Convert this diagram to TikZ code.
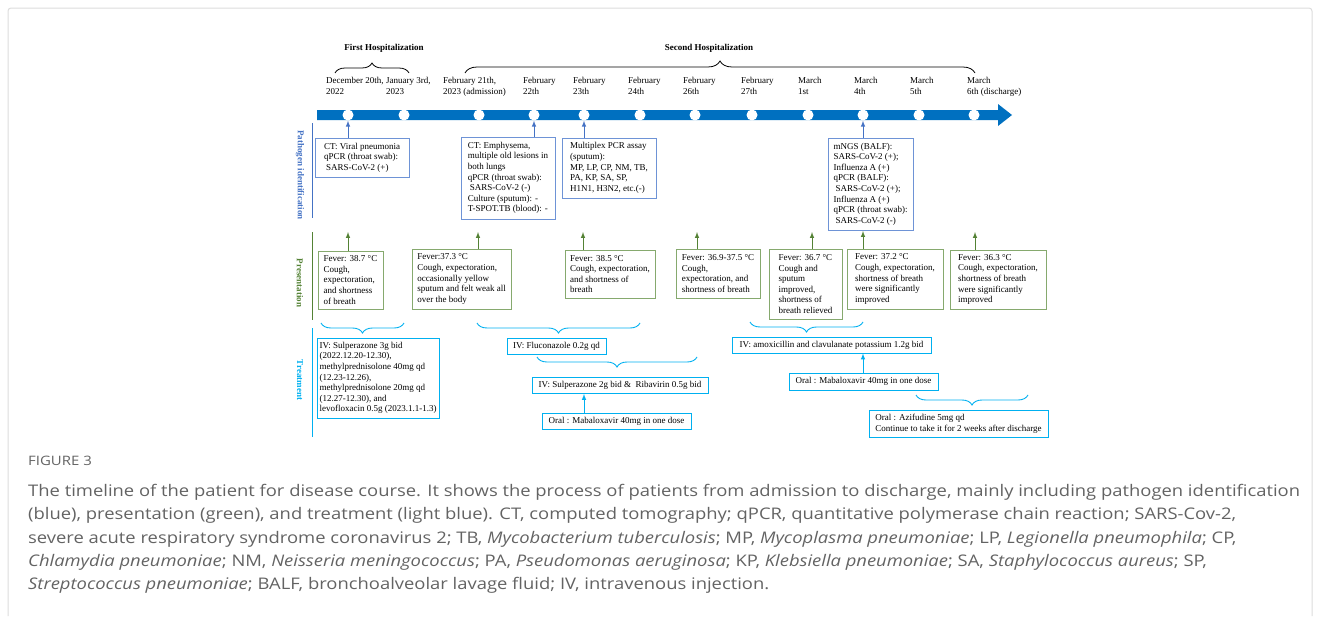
\documentclass[tikz,border=0pt]{standalone}
\usepackage{fontspec}
\setmainfont{Liberation Serif}
\newfontfamily\capfont[FakeStretch=1.15]{Open Sans}
\usetikzlibrary{decorations.pathreplacing}

\definecolor{tlblue}{HTML}{0070C0}
\definecolor{pathblue}{HTML}{4472C4}
\definecolor{pathbox}{HTML}{6E93D6}
\definecolor{presgreen}{HTML}{548235}
\definecolor{presbox}{HTML}{86A96E}
\definecolor{treatblue}{HTML}{00B0F0}
\definecolor{capgray}{HTML}{636363}
\definecolor{framegray}{HTML}{DCDCDC}

\tikzset{
  every node/.style={font=\fontsize{9}{10.6}\selectfont},
  dot/.style={circle, fill=white, minimum size=11pt, inner sep=0pt},
  date/.style={anchor=north west, align=left, inner sep=0pt},
  pbox/.style={draw=pathbox, line width=0.9pt, align=left, inner sep=2pt},
  gbox/.style={draw=presbox, line width=0.9pt, align=left, inner sep=2pt},
  tbox/.style={draw=treatblue, line width=0.9pt, align=left, inner sep=2pt},
  parr/.style={->, >=latex, pathblue, line width=1pt},
  garr/.style={->, >=latex, presgreen, line width=1pt},
  tarr/.style={->, >=latex, treatblue, line width=1pt},
  topbrace/.style={decorate, decoration={brace, amplitude=10pt}, line width=0.8pt},
  lowbrace/.style={decorate, decoration={brace, amplitude=10pt, mirror}, treatblue, line width=0.9pt},
  rowlabel/.style={rotate=-90, font=\bfseries\fontsize{9}{10.6}\selectfont}
}

\begin{document}
\begin{tikzpicture}[x=1pt, y=-1pt]
\useasboundingbox (0,0) rectangle (1320,616);

\draw[framegray, line width=1pt, rounded corners=3pt] (8,616) -- (8,8) -- (1312,8) -- (1312,616);

\node[font=\bfseries\fontsize{9}{10.6}\selectfont] (hosp1) at (384,48) {First Hospitalization};
\node[font=\bfseries\fontsize{9}{10.6}\selectfont] (hosp2) at (709,48) {Second Hospitalization};
\draw[topbrace] (335,73) -- (409,73);
\draw[topbrace, decoration={amplitude=12pt}] (465,73) -- (975,73);

\node[date] (lb1) at (326,77) {December 20th,\\2022};
\node[date] (lb2) at (386,77) {January 3rd,\\2023};
\node[date] (lb3) at (443,77) {February 21th,\\2023 (admission)};
\node[date] (lb4) at (523,77) {February\\22th};
\node[date] (lb5) at (573,77) {February\\23th};
\node[date] (lb6) at (628,77) {February\\24th};
\node[date] (lb7) at (683,77) {February\\26th};
\node[date] (lb8) at (741,77) {February\\27th};
\node[date] (lb9) at (798,77) {March\\1st};
\node[date] (lb10) at (854,77) {March\\4th};
\node[date] (lb11) at (910,77) {March\\5th};
\node[date] (lb12) at (967,77) {March\\6th (discharge)};

\fill[tlblue] (317,110) -- (998,110) -- (998,104) -- (1012,115) -- (998,126) -- (998,120) -- (317,120) -- cycle;
\node[dot] (d1) at (348,115) {};
\node[dot] (d2) at (404,115) {};
\node[dot] (d3) at (479,115) {};
\node[dot] (d4) at (534,115) {};
\node[dot] (d5) at (584,115) {};
\node[dot] (d6) at (640,115) {};
\node[dot] (d7) at (695,115) {};
\node[dot] (d8) at (752,115) {};
\node[dot] (d9) at (808,115) {};
\node[dot] (d10) at (863,115) {};
\node[dot] (d11) at (919,115) {};
\node[dot] (d12) at (974,115) {};

\node[rowlabel, text=pathblue] (lpath) at (300,175) {Pathogen identification};
\node[rowlabel, text=presgreen] (lpres) at (300,283) {Presentation};
\node[rowlabel, text=treatblue] (ltreat) at (300,380) {Treatment};
\draw[pathblue, line width=1pt] (312,123) -- (312,218);
\draw[presgreen, line width=1pt] (312,232) -- (312,320);
\draw[treatblue, line width=1pt] (312,328) -- (312,437);

\node[pbox, minimum width=94, minimum height=39] (p1) at (362,157.5) {CT: Viral pneumonia\\qPCR (throat swab):\\\hspace*{2pt}SARS-CoV-2 (+)};
\node[pbox, minimum width=94, minimum height=82] (p2) at (508,178) {CT: Emphysema,\\multiple old lesions in\\both lungs\\qPCR (throat swab):\\\hspace*{2pt}SARS-CoV-2 (-)\\Culture (sputum): -\\T-SPOT.TB (blood): -};
\node[pbox, minimum width=94, minimum height=60] (p3) at (609,168) {Multiplex PCR assay\\(sputum):\\MP, LP, CP, NM, TB,\\PA, KP, SA, SP,\\H1N1, H3N2, etc.(-)};
\node[pbox, minimum width=85, minimum height=92] (p4) at (870.5,184) {mNGS (BALF):\\SARS-CoV-2 (+);\\Influenza A (+)\\qPCR (BALF):\\\hspace*{2pt}SARS-CoV-2 (+);\\Influenza A (+)\\qPCR (throat swab):\\\hspace*{2pt}SARS-CoV-2 (-)};
\draw[parr] (p1.north -| d1) -- (d1.south);
\draw[parr] (p2.north -| d4) -- (d4.south);
\draw[parr] (p3.north -| d5) -- (d5.south);
\draw[parr] (p4.north -| d10) -- (d10.south);

\node[gbox, minimum width=65, minimum height=58] (g1) at (350.5,280) {Fever: 38.7 °C\\Cough,\\expectoration,\\and shortness\\of breath};
\node[gbox, minimum width=99, minimum height=60] (g2) at (461.5,279) {Fever:37.3 °C\\Cough, expectoration,\\occasionally yellow\\sputum and felt weak all\\over the body};
\node[gbox, minimum width=90, minimum height=48] (g3) at (610,274) {Fever: 38.5 °C\\Cough, expectoration,\\and shortness of\\breath};
\node[gbox, minimum width=84, minimum height=49] (g4) at (718,273.5) {Fever: 36.9-37.5 °C\\Cough,\\expectoration, and\\shortness of breath};
\node[gbox, minimum width=73, minimum height=70] (g5) at (805.5,284) {Fever: 36.7 °C\\Cough and\\sputum\\improved,\\shortness of\\breath relieved};
\node[gbox, minimum width=96, minimum height=60] (g6) at (895,279) {Fever: 37.2 °C\\Cough, expectoration,\\shortness of breath\\were significantly\\improved};
\node[gbox, minimum width=96, minimum height=59] (g7) at (998,279.5) {Fever: 36.3 °C\\Cough, expectoration,\\shortness of breath\\were significantly\\improved};
\coordinate (g1t) at (348,232);
\coordinate (g2t) at (478,232);
\coordinate (g3t) at (583,232);
\coordinate (g4t) at (697,232);
\coordinate (g5t) at (812,232);
\coordinate (g6t) at (863,231);
\coordinate (g7t) at (975,232);
\draw[garr] (g1.north -| g1t) -- (g1t);
\draw[garr] (g2.north -| g2t) -- (g2t);
\draw[garr] (g3.north -| g3t) -- (g3t);
\draw[garr] (g4.north -| g4t) -- (g4t);
\draw[garr] (g5.north -| g5t) -- (g5t);
\draw[garr] (g6.north -| g6t) -- (g6t);
\draw[garr] (g7.north -| g7t) -- (g7t);

\draw[lowbrace] (321,323) -- (404,323);
\draw[lowbrace] (477,323) -- (640,323);
\draw[lowbrace] (537,357) -- (697,357);
\draw[lowbrace] (750,322) -- (863,322);
\draw[lowbrace] (916,395) -- (1028,395);

\node[tbox, minimum width=122, minimum height=80] (t1) at (378,378) {IV: Sulperazone 3g bid\\(2022.12.20-12.30),\\methylprednisolone 40mg qd\\(12.23-12.26),\\methylprednisolone 20mg qd\\(12.27-12.30), and\\levofloxacin 0.5g (2023.1.1-1.3)};
\node[tbox, minimum width=99, minimum height=16] (t2) at (556.5,346) {IV: Fluconazole 0.2g qd};
\node[tbox, minimum width=176, minimum height=16] (t3) at (620,385.5) {IV: Sulperazone 2g bid \&\ \ Ribavirin 0.5g bid};
\node[tbox, minimum width=149, minimum height=16] (t4) at (616.5,421) {Oral : Mabaloxavir 40mg in one dose};
\node[tbox, minimum width=199, minimum height=16] (t5) at (831.5,345) {IV: amoxicillin and clavulanate potassium 1.2g bid};
\node[tbox, minimum width=149, minimum height=17] (t6) at (863.5,381.5) {Oral : Mabaloxavir 40mg in one dose};
\node[tbox, minimum width=179, minimum height=27] (t7) at (958.5,423.5) {Oral : Azifudine 5mg qd\\Continue to take it for 2 weeks after discharge};
\draw[tarr] (t4.north -| d5) -- (t3.south -| d5);
\draw[tarr] (t6.north -| d10) -- (t5.south -| d10);

\node[anchor=north west, inner sep=0pt, font=\capfont\fontsize{13}{15}\selectfont, text=capgray] (fig) at (28,456) {FIGURE 3};
\node[anchor=north west, inner sep=0pt, align=left, font=\capfont\fontsize{16}{23.3}\selectfont, text=capgray] (caption) at (28,484) {The timeline of the patient for disease course. It shows the process of patients from admission to discharge, mainly including pathogen identification\\
(blue), presentation (green), and treatment (light blue). CT, computed tomography; qPCR, quantitative polymerase chain reaction; SARS-Cov-2,\\
severe acute respiratory syndrome coronavirus 2; TB, \textit{Mycobacterium tuberculosis}; MP, \textit{Mycoplasma pneumoniae}; LP, \textit{Legionella pneumophila}; CP,\\
\textit{Chlamydia pneumoniae}; NM, \textit{Neisseria meningococcus}; PA, \textit{Pseudomonas aeruginosa}; KP, \textit{Klebsiella pneumoniae}; SA, \textit{Staphylococcus aureus}; SP,\\
\textit{Streptococcus pneumoniae}; BALF, bronchoalveolar lavage fluid; IV, intravenous injection.};
\end{tikzpicture}
\end{document}
